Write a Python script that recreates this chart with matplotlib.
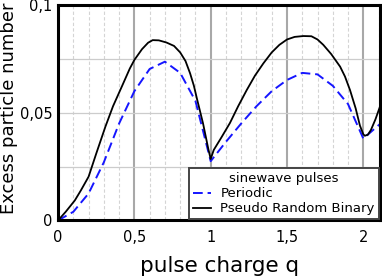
import matplotlib
matplotlib.use("Agg")
import matplotlib.pyplot as plt
from matplotlib.ticker import MultipleLocator

# Periodic (blue dashed), sampled every 0.1
q_per = [0.0, 0.1, 0.2, 0.3, 0.4, 0.5, 0.6, 0.7, 0.8, 0.9, 1.0,
         1.1, 1.2, 1.3, 1.4, 1.5, 1.6, 1.7, 1.8, 1.9, 2.0, 2.11]
v_per = [0.0, 0.004, 0.0125, 0.027, 0.045, 0.060, 0.0703, 0.0737, 0.0685, 0.0555, 0.0275,
         0.0365, 0.0450, 0.0530, 0.0600, 0.0652, 0.0685, 0.0678, 0.0625, 0.0540, 0.0380, 0.0448]

# Pseudo Random Binary (black solid)
q_prb = [0.0, 0.05, 0.11, 0.15, 0.2, 0.25, 0.31, 0.36, 0.42, 0.47, 0.5, 0.55, 0.59, 0.62,
         0.66, 0.71, 0.76, 0.80, 0.835, 0.865, 0.89, 0.91, 0.95, 0.985, 1.0, 1.02, 1.07,
         1.126, 1.18, 1.236, 1.29, 1.345, 1.40, 1.45, 1.50, 1.55, 1.607, 1.66, 1.70,
         1.738, 1.79, 1.848, 1.88, 1.913, 1.95, 1.978, 2.0, 2.01, 2.03, 2.05, 2.08, 2.11]
v_prb = [0.0, 0.004, 0.0093, 0.014, 0.0203, 0.0310, 0.0435, 0.0530, 0.0625, 0.0705,
         0.0745, 0.0795, 0.0825, 0.0837, 0.0836, 0.0826, 0.0810, 0.0780, 0.0740, 0.0683,
         0.0625, 0.0565, 0.0450, 0.0330, 0.0285, 0.0327, 0.0385, 0.0452, 0.0530, 0.0605,
         0.0672, 0.0729, 0.0780, 0.0815, 0.0840, 0.0852, 0.0856, 0.0855, 0.0840, 0.0815,
         0.0772, 0.0714, 0.0668, 0.0605, 0.0520, 0.0440, 0.0400, 0.0393, 0.0398, 0.0420,
         0.0470, 0.0530]

xticks = [0, 0.5, 1, 1.5, 2]
xtick_labels = ["0", "0,5", "1", "1,5", "2"]
yticks = [0, 0.05, 0.1]
ytick_labels = ["0", "0,05", "0,1"]

fig = plt.figure(figsize=(3.82, 2.79), dpi=100)
ax = fig.add_axes([0.152, 0.21, 0.843, 0.772])

ax.set_xlim(0, 2.11)
ax.set_ylim(0, 0.1)

# grid
ax.xaxis.set_minor_locator(MultipleLocator(0.1))
ax.yaxis.set_minor_locator(MultipleLocator(0.025))
ax.grid(which="minor", axis="x", color="#d4d4d4", linestyle=(0, (3, 2)), linewidth=0.8)
ax.grid(which="major", axis="x", color="#a8a8a8", linestyle="-", linewidth=1.5)
ax.grid(which="both", axis="y", color="#cccccc", linestyle="-", linewidth=0.9)
ax.set_axisbelow(True)

ax.plot(q_per, v_per, color="#1515ff", linestyle=(0, (5, 2.5)), linewidth=1.4, label="Periodic")
ax.plot(q_prb, v_prb, color="black", linestyle="-", linewidth=1.3, label="Pseudo Random Binary")

ax.set_xticks(xticks)
ax.set_xticklabels(xtick_labels)
ax.set_yticks(yticks)
ax.set_yticklabels(ytick_labels)
ax.tick_params(axis="both", which="both", length=0, labelsize=10.5)
ax.tick_params(axis="x", pad=7)
ax.tick_params(axis="y", pad=4)

for s in ax.spines.values():
    s.set_linewidth(2.2)
    s.set_color("black")

ax.set_xlabel("pulse charge q", fontsize=15.5, labelpad=8)
ax.set_ylabel("Excess particle number", fontsize=13, labelpad=3)
ax.yaxis.set_label_coords(-0.125, 0.52)

leg = ax.legend(title="sinewave pulses", loc="lower right", fontsize=9.5,
                title_fontsize=9.5, frameon=True, fancybox=False,
                borderpad=0.3, labelspacing=0.15, handlelength=1.35,
                handletextpad=0.7, borderaxespad=0.1, shadow=False)
leg.get_frame().set_edgecolor("#444444")
leg.get_frame().set_linewidth(1.4)
leg.get_frame().set_alpha(1.0)

fig.savefig("out.png", dpi=100)
